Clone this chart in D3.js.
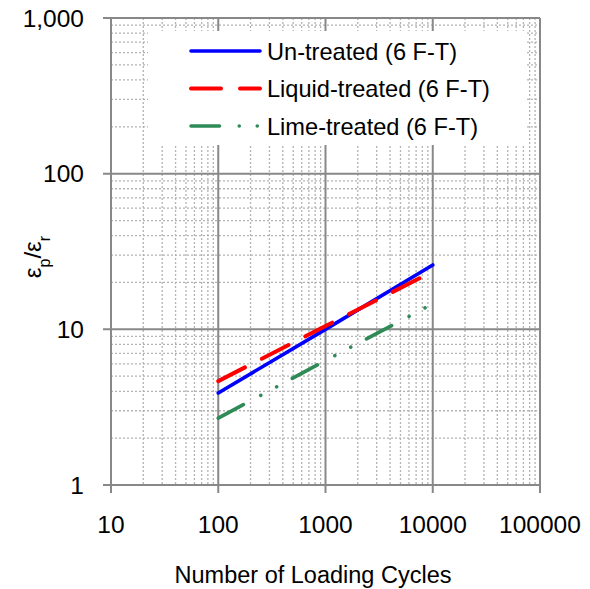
<!DOCTYPE html>
<html>
<head>
<meta charset="utf-8">
<script src="https://cdn.jsdelivr.net/npm/d3@7"></script>
<style>
  html, body { margin: 0; padding: 0; background: #fff; }
  svg { display: block; font-family: "Liberation Sans", Arial, sans-serif; }
</style>
</head>
<body>
<svg id="chart" width="590" height="589"></svg>
<script>
// Loading cycles at which each fitted line is evaluated
const cycles = [100, 1000, 10000];
// Permanent / resilient strain ratio after 6 freeze-thaw cycles
const untreated = [3.9, 10.0, 25.9];
const liquidTreated = [4.65, 10.5, 23.5];
const limeTreated = [2.69, 6.3, 14.6];

const seriesNames = ["Un-treated (6 F-T)", "Liquid-treated (6 F-T)", "Lime-treated (6 F-T)"];
const xTicks = [10, 100, 1000, 10000, 100000];
const yTicks = [1, 10, 100, 1000];

const svg = d3.select("#chart");
const plotLeft = 111, plotRight = 540, plotTop = 18, plotBottom = 485;

const x = d3.scaleLog().domain([10, 100000]).range([plotLeft, plotRight]);
const y = d3.scaleLog().domain([1, 1000]).range([plotBottom, plotTop]);

const majorColor = "#888888";
const minorColor = "#b3b3b3";

// minor grid (2..9 within each decade)
const minorX = [], minorY = [];
for (let d = 10; d < 100000; d *= 10) for (let k = 2; k <= 9; k++) minorX.push(d * k);
for (let d = 1; d < 1000; d *= 10) for (let k = 2; k <= 9; k++) minorY.push(d * k);

const grid = svg.append("g");
grid.append("g").selectAll("line").data(minorX).join("line")
  .attr("x1", d => x(d)).attr("x2", d => x(d))
  .attr("y1", plotTop).attr("y2", plotBottom)
  .attr("stroke", minorColor).attr("stroke-width", 1.3)
  .attr("stroke-dasharray", "2,2");
grid.append("g").selectAll("line").data(minorY).join("line")
  .attr("x1", plotLeft).attr("x2", plotRight)
  .attr("y1", d => y(d)).attr("y2", d => y(d))
  .attr("stroke", minorColor).attr("stroke-width", 1.3)
  .attr("stroke-dasharray", "2,2");

// major grid lines with outward ticks
grid.append("g").selectAll("line").data(xTicks).join("line")
  .attr("x1", d => x(d)).attr("x2", d => x(d))
  .attr("y1", plotTop).attr("y2", plotBottom + 8)
  .attr("stroke", majorColor).attr("stroke-width", 2);
grid.append("g").selectAll("line").data(yTicks).join("line")
  .attr("x1", plotLeft - 8).attr("x2", plotRight)
  .attr("y1", d => y(d)).attr("y2", d => y(d))
  .attr("stroke", majorColor).attr("stroke-width", 2);

// tick labels
const fmtY = d3.format(",");
svg.append("g").selectAll("text").data(yTicks).join("text")
  .attr("x", 84).attr("y", d => y(d) + 8.5)
  .attr("text-anchor", "end").attr("font-size", 24.5).attr("fill", "#000")
  .text(d => fmtY(d));
svg.append("g").selectAll("text").data(xTicks).join("text")
  .attr("x", d => x(d)).attr("y", 533)
  .attr("text-anchor", "middle").attr("font-size", 24.5).attr("fill", "#000")
  .text(d => String(d));

// axis titles
svg.append("text")
  .attr("x", 313).attr("y", 583)
  .attr("text-anchor", "middle").attr("font-size", 23.5).attr("fill", "#000")
  .text("Number of Loading Cycles");

const yt = svg.append("text")
  .attr("transform", "translate(41,257) rotate(-90)")
  .attr("text-anchor", "middle").attr("font-size", 24).attr("fill", "#000");
yt.append("tspan").text("ε");
yt.append("tspan").attr("baseline-shift", "sub").attr("font-size", 16).text("p");
yt.append("tspan").text("/ε");
yt.append("tspan").attr("baseline-shift", "sub").attr("font-size", 16).text("r");

// series
const series = [
  { name: seriesNames[0], values: untreated, color: "#0000ff", width: 3.6, dash: null },
  { name: seriesNames[1], values: liquidTreated, color: "#ff0000", width: 4, dash: "30,19" },
  { name: seriesNames[2], values: limeTreated, color: "#2e8b57", width: 3.6, dash: "28.5,19.75,0.01,18,0.01,17.75" }
];

const line = d3.line().x(d => x(d[0])).y(d => y(d[1]));
const plot = svg.append("g");
series.forEach(s => {
  plot.append("path")
    .datum(cycles.map((c, i) => [c, s.values[i]]))
    .attr("d", line)
    .attr("fill", "none")
    .attr("stroke", s.color)
    .attr("stroke-width", s.width)
    .attr("stroke-linecap", "round")
    .attr("stroke-dasharray", s.dash);
});

// legend
const lg = svg.append("g");
lg.append("rect").attr("x", 148).attr("y", 31).attr("width", 377).attr("height", 114).attr("fill", "#fff");
const rowY = [51, 88.5, 126];
series.forEach((s, i) => {
  lg.append("line")
    .attr("x1", 191).attr("x2", 260).attr("y1", rowY[i]).attr("y2", rowY[i])
    .attr("stroke", s.color).attr("stroke-width", s.width)
    .attr("stroke-linecap", "round")
    .attr("stroke-dasharray", s.dash);
  lg.append("text")
    .attr("x", 267).attr("y", rowY[i] + 8.5)
    .attr("font-size", 23.6).attr("fill", "#000")
    .text(s.name);
});
</script>
</body>
</html>
